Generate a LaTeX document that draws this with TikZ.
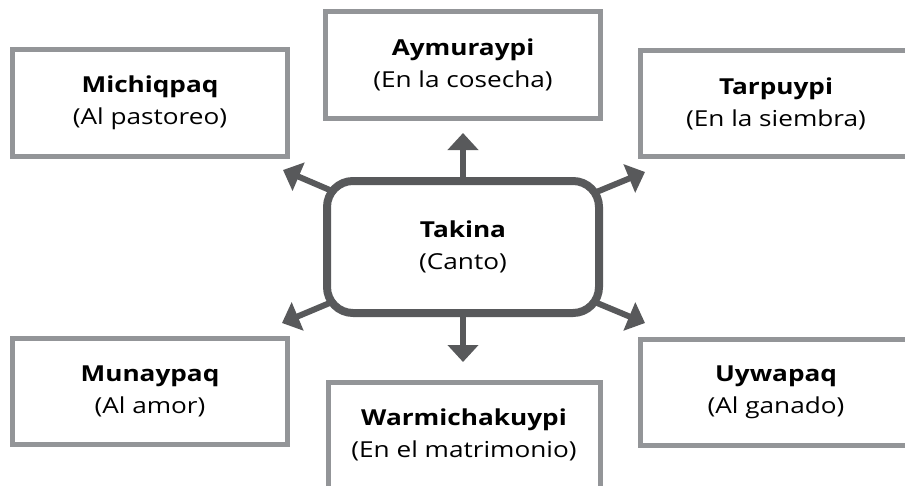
\documentclass[tikz,border=0pt]{standalone}
\usepackage{fontspec}
\setmainfont[FakeStretch=1.19]{Open Sans}
\usetikzlibrary{arrows.meta}
\pgfdeclarelayer{bg}
\pgfsetlayers{bg,main}
\definecolor{darkg}{HTML}{58595B}
\definecolor{lightg}{HTML}{939598}
\begin{document}
\begin{tikzpicture}[x=0.75pt,y=-0.75pt,
  txt/.style={font=\fontsize{16.5}{24}\selectfont,align=center,text=black},
  box/.style={txt,draw=lightg,line width=3.75pt,fill=white,minimum width=206.25pt,minimum height=79.5pt,inner sep=0pt},
  hub/.style={txt,draw=darkg,line width=6pt,fill=white,rounded corners=19.5pt,minimum width=204pt,minimum height=99pt,inner sep=0pt},
  arr/.style={draw=darkg,line width=4.5pt,-{Triangle[width=22.5pt,length=12.75pt]}}]
\useasboundingbox (0,0) rectangle (905,485);
\node[hub] (c) at (463,247) {\textbf{Takina}\\(Canto)};
\node[box] (b1) at (150,103) {\textbf{Michiqpaq}\\(Al pastoreo)};
\node[box] (b2) at (463,65) {\textbf{Aymuraypi}\\(En la cosecha)};
\node[box,minimum width=204pt] (b3) at (776,103.5) {\textbf{Tarpuypi}\\(En la siembra)};
\node[box] (b4) at (150,391.5) {\textbf{Munaypaq}\\(Al amor)};
\node[box,minimum width=204pt] (b5) at (776,392.5) {\textbf{Uywapaq}\\(Al ganado)};
\node[box,minimum width=204pt] (b6) at (464,435) {\textbf{Warmichakuypi}\\(En el matrimonio)};
\coordinate (tU) at (463,133);
\coordinate (tD) at (463,362);
\coordinate (tUL) at (283,170);
\coordinate (tUR) at (645,172);
\coordinate (tLR) at (645,323);
\coordinate (tLL) at (282,323);
\begin{pgfonlayer}{bg}
\draw[arr] (c.center) -- (tU);
\draw[arr] (c.center) -- (tD);
\draw[arr] (c.center) -- (tUL);
\draw[arr] (c.center) -- (tUR);
\draw[arr] (c.center) -- (tLR);
\draw[arr] (c.center) -- (tLL);
\end{pgfonlayer}
\end{tikzpicture}
\end{document}
